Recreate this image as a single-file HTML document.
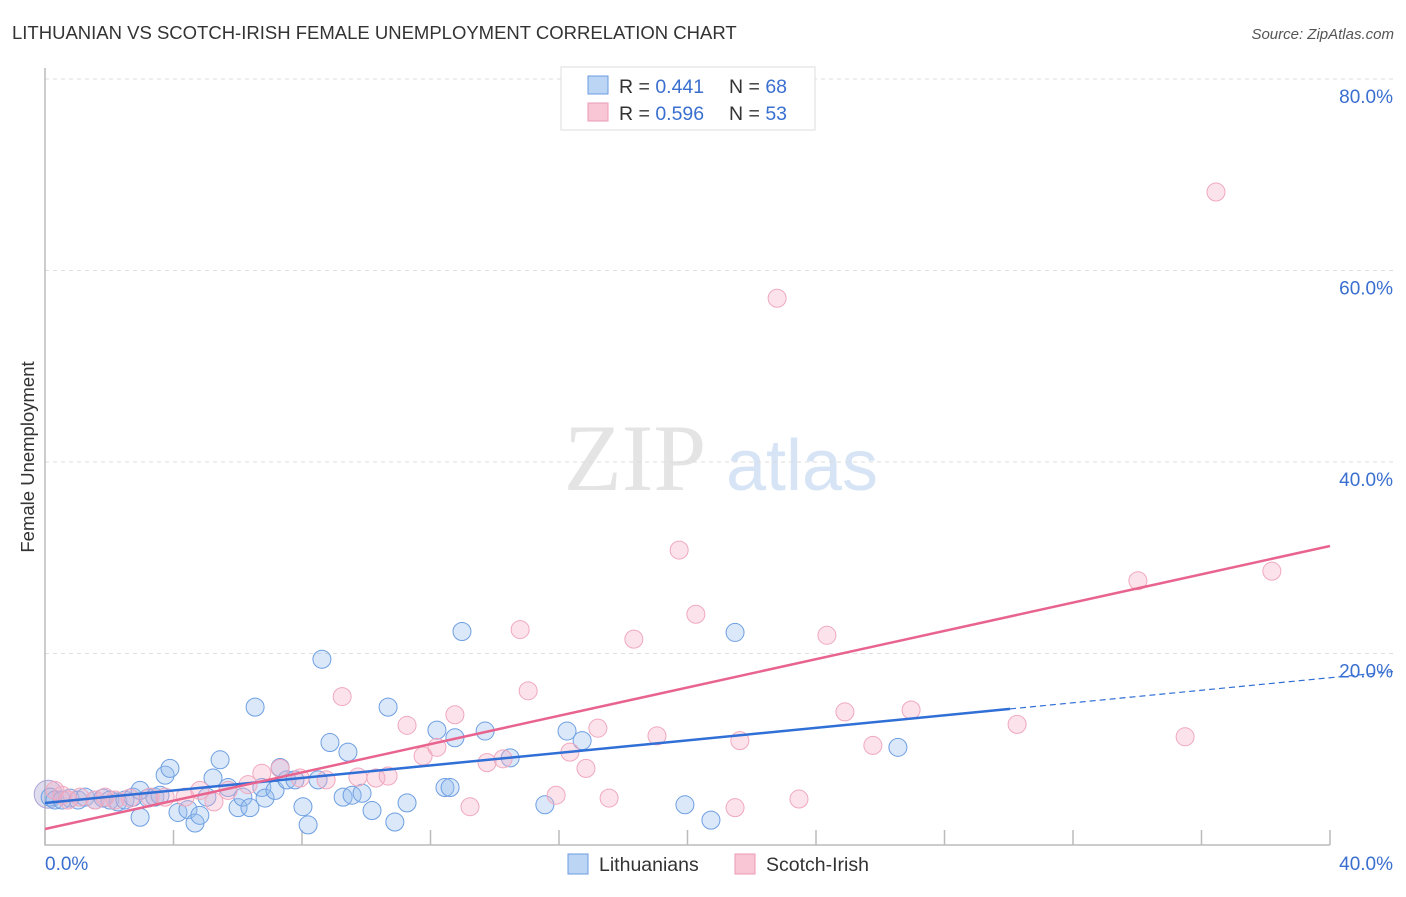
<!DOCTYPE html>
<html><head><meta charset="utf-8"><style>
body{margin:0;background:#fff;font-family:"Liberation Sans",sans-serif}
</style></head><body>
<svg width="1406" height="892" xmlns="http://www.w3.org/2000/svg">
<text x="12" y="39" font-size="18.5" fill="#333">LITHUANIAN VS SCOTCH-IRISH FEMALE UNEMPLOYMENT CORRELATION CHART</text>
<text x="1394" y="39" font-size="15" fill="#555" font-style="italic" text-anchor="end">Source: ZipAtlas.com</text>
<text x="0" y="0" transform="translate(34,457) rotate(-90)" font-size="18.5" fill="#333" text-anchor="middle">Female Unemployment</text>
<g>
<text x="635" y="490" font-family="Liberation Serif,serif" font-size="95" fill="#e4e4e4" text-anchor="middle">ZIP</text>
<text x="802" y="490" font-size="72" fill="#d6e4f5" text-anchor="middle">atlas</text>
</g>
<g id="grid"></g><g id="axes"></g><g id="pts"></g><g id="lines"></g>
<g>
<rect x="561" y="67" width="254" height="63" fill="#fff" stroke="#ddd"/>
<rect x="588" y="76" width="20" height="18" fill="#bcd5f5" stroke="#6a9be0"/>
<rect x="588" y="103" width="20" height="18" fill="#f9c6d6" stroke="#ec9ab4"/>
<text x="619" y="93" font-size="19.5" fill="#333">R = <tspan fill="#3a6fd0">0.441</tspan></text>
<text x="729" y="93" font-size="19.5" fill="#333">N = <tspan fill="#3a6fd0">68</tspan></text>
<text x="619" y="120" font-size="19.5" fill="#333">R = <tspan fill="#3a6fd0">0.596</tspan></text>
<text x="729" y="120" font-size="19.5" fill="#333">N = <tspan fill="#3a6fd0">53</tspan></text>
</g>
<g>
<rect x="568" y="854" width="20" height="20" fill="#bcd5f5" stroke="#6a9be0"/>
<text x="599" y="871" font-size="19.5" fill="#333">Lithuanians</text>
<rect x="735" y="854" width="20" height="20" fill="#f9c6d6" stroke="#ec9ab4"/>
<text x="766" y="871" font-size="19.5" fill="#333">Scotch-Irish</text>
</g>
</svg>
<script>
const yTicks=[20,40,60,80];
const yTickLabels=["20.0%","40.0%","60.0%","80.0%"];
const xTicks=[0,4,8,12,16,20,24,28,32,36,40];
const blueX=[0.16,0.31,0.53,0.78,1.03,1.25,1.56,1.81,2.02,2.27,2.49,2.74,2.96,3.21,3.42,3.58,3.74,3.89,2.96,4.14,4.45,4.67,4.82,5.04,5.23,5.45,5.70,6.01,6.16,6.38,6.54,6.75,6.85,7.16,7.32,7.53,7.78,8.03,8.19,8.50,8.62,8.87,9.28,9.43,9.56,9.87,10.18,10.68,10.89,11.27,12.20,12.45,12.61,12.76,12.98,13.70,14.48,15.56,16.25,16.72,19.92,20.73,21.48,26.55];
const blueY=[5.0,4.7,4.7,4.9,4.7,5.0,4.7,4.9,4.7,4.5,4.7,5.0,5.7,4.9,5.0,5.2,7.3,8.0,2.9,3.4,3.7,2.3,3.1,5.0,7.0,8.9,6.0,3.9,5.0,3.9,14.4,6.0,4.9,5.7,8.1,6.8,6.8,4.0,2.1,6.8,19.4,10.7,5.0,9.7,5.2,5.4,3.6,14.4,2.4,4.4,12.0,6.0,6.0,11.2,22.3,11.9,9.1,4.2,11.9,10.9,4.2,2.6,22.2,10.2];
const pinkX=[0.31,0.53,0.72,1.09,1.56,1.87,2.18,2.65,3.27,3.74,4.36,4.82,5.26,5.70,6.32,6.75,7.32,7.94,8.75,9.25,9.74,10.30,10.68,11.27,11.77,12.20,12.76,13.23,13.76,14.26,14.79,15.04,15.91,16.34,16.84,17.21,17.56,18.33,19.05,19.74,20.26,21.48,21.63,23.47,24.34,24.90,25.77,26.96,30.26,34.02,35.49,36.45,38.19,22.79];
const pinkY=[5.7,5.2,4.7,5.0,4.7,5.0,4.7,4.9,5.0,5.0,5.0,5.7,4.5,5.7,6.3,7.5,8.0,7.0,6.8,15.5,7.1,7.0,7.2,12.5,9.3,10.2,13.6,4.0,8.6,9.0,22.5,16.1,5.2,9.7,8.0,12.2,4.9,21.5,11.4,30.8,24.1,3.9,10.9,4.8,21.9,13.9,10.4,14.1,12.6,27.6,11.3,68.2,28.6,57.1];
const blueFit=[4.39,0.327]; const pinkFit=[1.67,0.739];
const sx=v=>45+v*32.125, sy=v=>845-v*9.575;
const NS="http://www.w3.org/2000/svg";
function mk(t,a,p){const e=document.createElementNS(NS,t);for(const k in a)e.setAttribute(k,a[k]);p.appendChild(e);return e;}
const grid=document.getElementById('grid'),axes=document.getElementById('axes'),pts=document.getElementById('pts'),lines=document.getElementById('lines');
yTicks.forEach((t,i)=>{
 const l=mk('line',{x1:45,x2:1393,y1:sy(t),y2:sy(t),stroke:'#ddd','stroke-dasharray':'4,4'},grid);
 
 
 const tx=mk('text',{x:1393,y:sy(t)+24,'font-size':19,fill:'#3a6fd0','text-anchor':'end'},grid);
 tx.textContent=yTickLabels[i];
 
 
});
const ax=mk('path',{d:'M45 68V845H1330',fill:'none',stroke:'#bbb','stroke-width':1.5},axes);


xTicks.forEach(t=>{const l=mk('line',{x1:sx(t),x2:sx(t),y1:845,y2:830,stroke:'#bbb','stroke-width':1.5},axes);
 
 });
const xl0=mk('text',{x:45,y:870,'font-size':19,fill:'#3a6fd0'},axes);xl0.textContent='0.0%';


const xl1=mk('text',{x:1393,y:870,'font-size':19,fill:'#3a6fd0','text-anchor':'end'},axes);xl1.textContent='40.0%';


mk('circle',{cx:sx(0.1),cy:sy(5.3),r:14,fill:'rgba(150,140,200,0.3)',stroke:'#b0a4d6'},pts);
blueX.forEach((x,i)=>{const c=mk('circle',{cx:sx(x),cy:sy(blueY[i]),r:9,fill:'rgba(150,190,238,0.35)',stroke:'#6e9fe2','stroke-width':1},pts);
 
 });
pinkX.forEach((x,i)=>{const c=mk('circle',{cx:sx(x),cy:sy(pinkY[i]),r:9,fill:'rgba(246,175,198,0.35)',stroke:'#f0a8be','stroke-width':1},pts);
 
 });
const f=(fit,x)=>fit[0]+fit[1]*x;
const b1=mk('line',{x1:sx(0),y1:sy(f(blueFit,0)),x2:sx(30.04),y2:sy(f(blueFit,30.04)),stroke:'#2f6fd6','stroke-width':2.5},lines);


const b2=mk('line',{x1:sx(30.04),y1:sy(f(blueFit,30.04)),x2:sx(41.96),y2:sy(f(blueFit,41.96)),stroke:'#2f6fd6','stroke-width':1.2,'stroke-dasharray':'6,4'},lines);


const p1=mk('line',{x1:sx(0),y1:sy(f(pinkFit,0)),x2:sx(40),y2:sy(f(pinkFit,40)),stroke:'#e8648f','stroke-width':2.5},lines);


</script>
</body></html>
